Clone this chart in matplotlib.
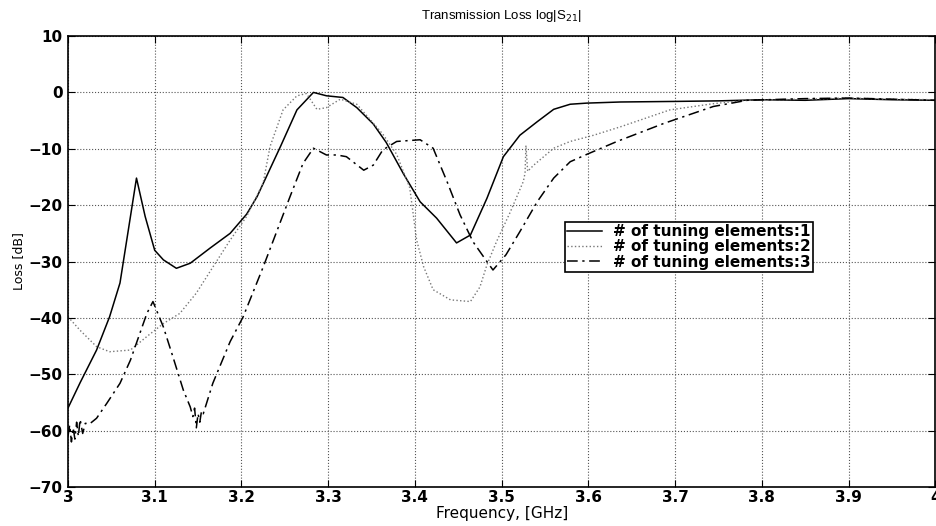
import matplotlib
matplotlib.use("Agg")
import matplotlib.pyplot as plt

plt.rcParams['font.family'] = ['DejaVu Sans']

# measured curves (frequency GHz, loss dB)
f1 = [3.000, 3.014, 3.033, 3.048, 3.060, 3.069, 3.079, 3.089, 3.100, 3.110, 3.125,
      3.141, 3.164, 3.187, 3.206, 3.218, 3.245, 3.264, 3.283, 3.298, 3.317, 3.333,
      3.352, 3.367, 3.387, 3.406, 3.425, 3.448, 3.464, 3.483, 3.502, 3.521, 3.541,
      3.560, 3.579, 3.598, 3.637, 3.700, 3.750, 3.800, 3.850, 3.900, 3.950, 4.000]
loss1 = [-56.0, -51.5, -45.7, -39.8, -33.8, -25.0, -15.2, -22.0, -28.0, -29.7, -31.2,
         -30.3, -27.6, -25.0, -21.6, -18.5, -9.6, -3.1, 0.0, -0.6, -0.9, -2.7,
         -5.6, -8.9, -14.5, -19.4, -22.3, -26.7, -25.3, -18.8, -11.4, -7.6, -5.2,
         -3.0, -2.1, -1.9, -1.7, -1.6, -1.5, -1.3, -1.4, -1.1, -1.3, -1.4]

f2 = [3.000, 3.014, 3.033, 3.048, 3.072, 3.091, 3.110, 3.129, 3.148, 3.167, 3.187,
      3.206, 3.225, 3.233, 3.248, 3.264, 3.275, 3.287, 3.298, 3.314, 3.333, 3.363,
      3.379, 3.394, 3.402, 3.410, 3.421, 3.441, 3.464, 3.475, 3.483, 3.494, 3.510,
      3.525, 3.527, 3.528, 3.530, 3.537, 3.560, 3.579, 3.606, 3.637, 3.694, 3.744,
      3.783, 3.850, 3.900, 3.950, 4.000]
loss2 = [-39.8, -42.2, -45.1, -46.0, -45.7, -43.3, -41.0, -39.2, -35.6, -31.0, -26.2,
         -22.0, -16.1, -9.6, -3.1, -0.6, -0.2, -3.0, -2.7, -1.2, -2.1, -7.4,
         -11.0, -16.9, -26.2, -30.9, -35.0, -36.8, -37.1, -34.5, -30.6, -26.5, -21.2,
         -15.8, -14.3, -9.4, -14.0, -12.9, -9.9, -8.7, -7.6, -6.1, -3.1, -2.0,
         -1.4, -1.2, -1.0, -1.2, -1.3]

f3 = [3.000, 3.002, 3.004, 3.006, 3.008, 3.010, 3.012, 3.014, 3.017, 3.020, 3.025,
      3.033, 3.045, 3.060, 3.072, 3.083, 3.091, 3.098, 3.110, 3.121, 3.133, 3.141,
      3.144, 3.146, 3.148, 3.150, 3.152, 3.154, 3.156, 3.167, 3.187, 3.202, 3.225,
      3.256, 3.271, 3.283, 3.298, 3.310, 3.321, 3.341, 3.352, 3.363, 3.379, 3.406,
      3.421, 3.437, 3.452, 3.467, 3.483, 3.490, 3.505, 3.521, 3.541, 3.560, 3.579,
      3.598, 3.633, 3.687, 3.744, 3.783, 3.850, 3.900, 3.950, 4.000]
loss3 = [-61.0, -59.0, -62.0, -59.5, -61.5, -58.5, -61.0, -58.0, -60.5, -58.7, -58.8,
         -57.8, -55.1, -51.6, -47.5, -42.7, -39.2, -37.1, -41.6, -46.9, -52.8, -55.8,
         -57.5, -56.0, -59.5, -57.0, -58.5, -56.5, -57.0, -51.6, -44.2, -39.8, -31.0,
         -18.5, -12.6, -9.9, -11.1, -11.1, -11.4, -13.8, -12.9, -10.2, -8.7, -8.4,
         -9.9, -15.8, -21.7, -26.5, -30.0, -31.5, -28.8, -24.7, -19.4, -15.2, -12.3,
         -11.0, -8.7, -5.5, -2.5, -1.4, -1.1, -1.0, -1.2, -1.4]

labels = ['# of tuning elements:1', '# of tuning elements:2', '# of tuning elements:3']
xticks = [3, 3.1, 3.2, 3.3, 3.4, 3.5, 3.6, 3.7, 3.8, 3.9, 4]
xtick_labels = ['3', '3.1', '3.2', '3.3', '3.4', '3.5', '3.6', '3.7', '3.8', '3.9', '4']

fig = plt.figure(figsize=(9.36, 5.26), dpi=100)
ax = fig.add_axes([0.0726, 0.0741, 0.9267, 0.8574])

ax.plot(f1, loss1, color='black', linewidth=1.1, linestyle='-', label=labels[0])
ax.plot(f2, loss2, color='#777777', linewidth=1.0, linestyle=':', label=labels[1])
ax.plot(f3, loss3, color='black', linewidth=1.1, linestyle=(0, (7, 3, 1.5, 3)), label=labels[2])

ax.set_xlim(3, 4)
ax.set_ylim(-70, 10)
ax.set_xticks(xticks)
ax.set_xticklabels(xtick_labels)
ax.set_yticks(range(-70, 11, 10))
ax.grid(True, linestyle=':', color='#555555', linewidth=0.8)
ax.tick_params(direction='in', top=True, right=True, length=5, labelsize=11)
ax.tick_params(axis='x', pad=2)
ax.tick_params(axis='y', pad=4)
for lbl in ax.get_xticklabels() + ax.get_yticklabels():
    lbl.set_fontweight('bold')
for s in ax.spines.values():
    s.set_linewidth(1.2)

ax.set_title('Transmission Loss log|S$_{21}$|', fontsize=9.5, pad=12,
             family=['Liberation Sans', 'DejaVu Sans'])
ax.set_xlabel('Frequency, [GHz]', fontsize=11, labelpad=1)
ax.set_ylabel('Loss [dB]', fontsize=9, labelpad=2)

leg = ax.legend(loc='upper left', bbox_to_anchor=(0.573, 0.588), fancybox=False,
                edgecolor='black', framealpha=1, borderpad=0.15, labelspacing=0.02,
                handlelength=2.3, handletextpad=0.7, borderaxespad=0,
                prop={'weight': 'bold', 'size': 11})
leg.get_frame().set_linewidth(1.2)

fig.savefig('out.png', dpi=100)
